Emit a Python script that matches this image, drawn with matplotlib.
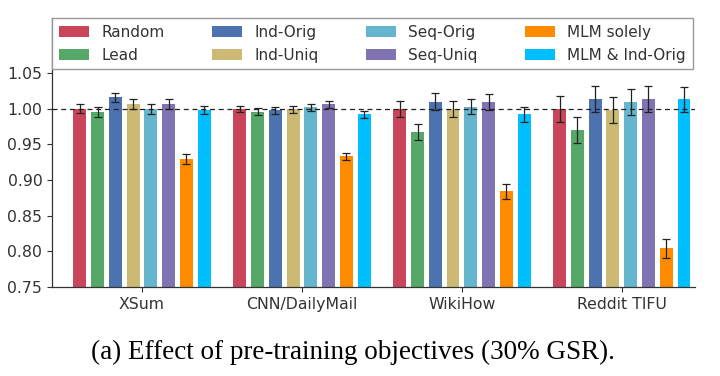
import numpy as np
import matplotlib
matplotlib.use('Agg')
import matplotlib.pyplot as plt

datasets = ['XSum', 'CNN/DailyMail', 'WikiHow', 'Reddit TIFU']
methods = ['Random', 'Lead', 'Ind-Orig', 'Ind-Uniq', 'Seq-Orig', 'Seq-Uniq',
           'MLM solely', 'MLM & Ind-Orig']
colors = ['#c9455a', '#55a868', '#4c72b0', '#ccb974', '#64b5cd', '#8172b2',
          '#ff8c00', '#00bfff']

# normalized scores, one row per method, one column per dataset
scores = [
    [1.000, 1.000, 1.000, 1.000],   # Random
    [0.995, 0.996, 0.967, 0.970],   # Lead
    [1.016, 0.998, 1.010, 1.014],   # Ind-Orig
    [1.007, 0.999, 1.000, 0.998],   # Ind-Uniq
    [1.000, 1.002, 1.003, 1.009],   # Seq-Orig
    [1.007, 1.006, 1.009, 1.014],   # Seq-Uniq
    [0.929, 0.933, 0.884, 0.804],   # MLM solely
    [0.998, 0.992, 0.992, 1.013],   # MLM & Ind-Orig
]
errors = [
    [0.006, 0.004, 0.011, 0.018],
    [0.007, 0.005, 0.011, 0.018],
    [0.006, 0.005, 0.012, 0.018],
    [0.007, 0.005, 0.011, 0.018],
    [0.007, 0.005, 0.011, 0.018],
    [0.007, 0.005, 0.011, 0.018],
    [0.007, 0.005, 0.010, 0.014],
    [0.006, 0.005, 0.010, 0.018],
]

plt.rcParams['font.size'] = 11
fig = plt.figure(figsize=(7.2, 3.76), dpi=100)
ax = fig.add_axes([0.0722, 0.2367, 0.8928, 0.7154])

x = np.arange(len(datasets))
pitch = 0.111
width = 0.081
for i, m in enumerate(methods):
    pos = x + (i - 3.5) * pitch
    ax.bar(pos, scores[i], width, color=colors[i], label=m, zorder=2,
           yerr=errors[i], capsize=3.2,
           error_kw=dict(ecolor='#222222', elinewidth=0.9, capthick=0.9, zorder=4))

ax.axhline(1.0, color='#222222', linestyle='--', linewidth=0.9, dashes=(4, 3), zorder=3)

ax.set_xlim(-0.5625, 3.456)
ax.set_ylim(0.75, 1.1272)
ax.set_yticks([0.75, 0.80, 0.85, 0.90, 0.95, 1.00, 1.05])
ax.set_yticklabels(['0.75', '0.80', '0.85', '0.90', '0.95', '1.00', '1.05'])
ax.set_xticks(x)
ax.set_xticklabels(datasets)
ax.tick_params(colors='#333333', labelsize=11.3, length=3.5, width=0.8)
for s in ['top', 'right']:
    ax.spines[s].set_visible(False)
for s in ['left', 'bottom']:
    ax.spines[s].set_color('#333333')
    ax.spines[s].set_linewidth(0.9)

leg = ax.legend(ncol=4, loc='upper left', bbox_to_anchor=(0.0, 0.0, 0.997, 1.0),
                mode='expand', borderaxespad=0, fancybox=False, edgecolor='#999999',
                framealpha=1, fontsize=11, handlelength=2.0, handletextpad=0.8,
                borderpad=0.45)
leg.set_zorder(10)
for t in leg.get_texts():
    t.set_color('#333333')

fig.text(0.49, 0.045, '(a) Effect of pre-training objectives (30% GSR).',
         family='Liberation Serif', fontsize=19.5, ha='center', va='baseline')

fig.savefig('out.png', dpi=100)
